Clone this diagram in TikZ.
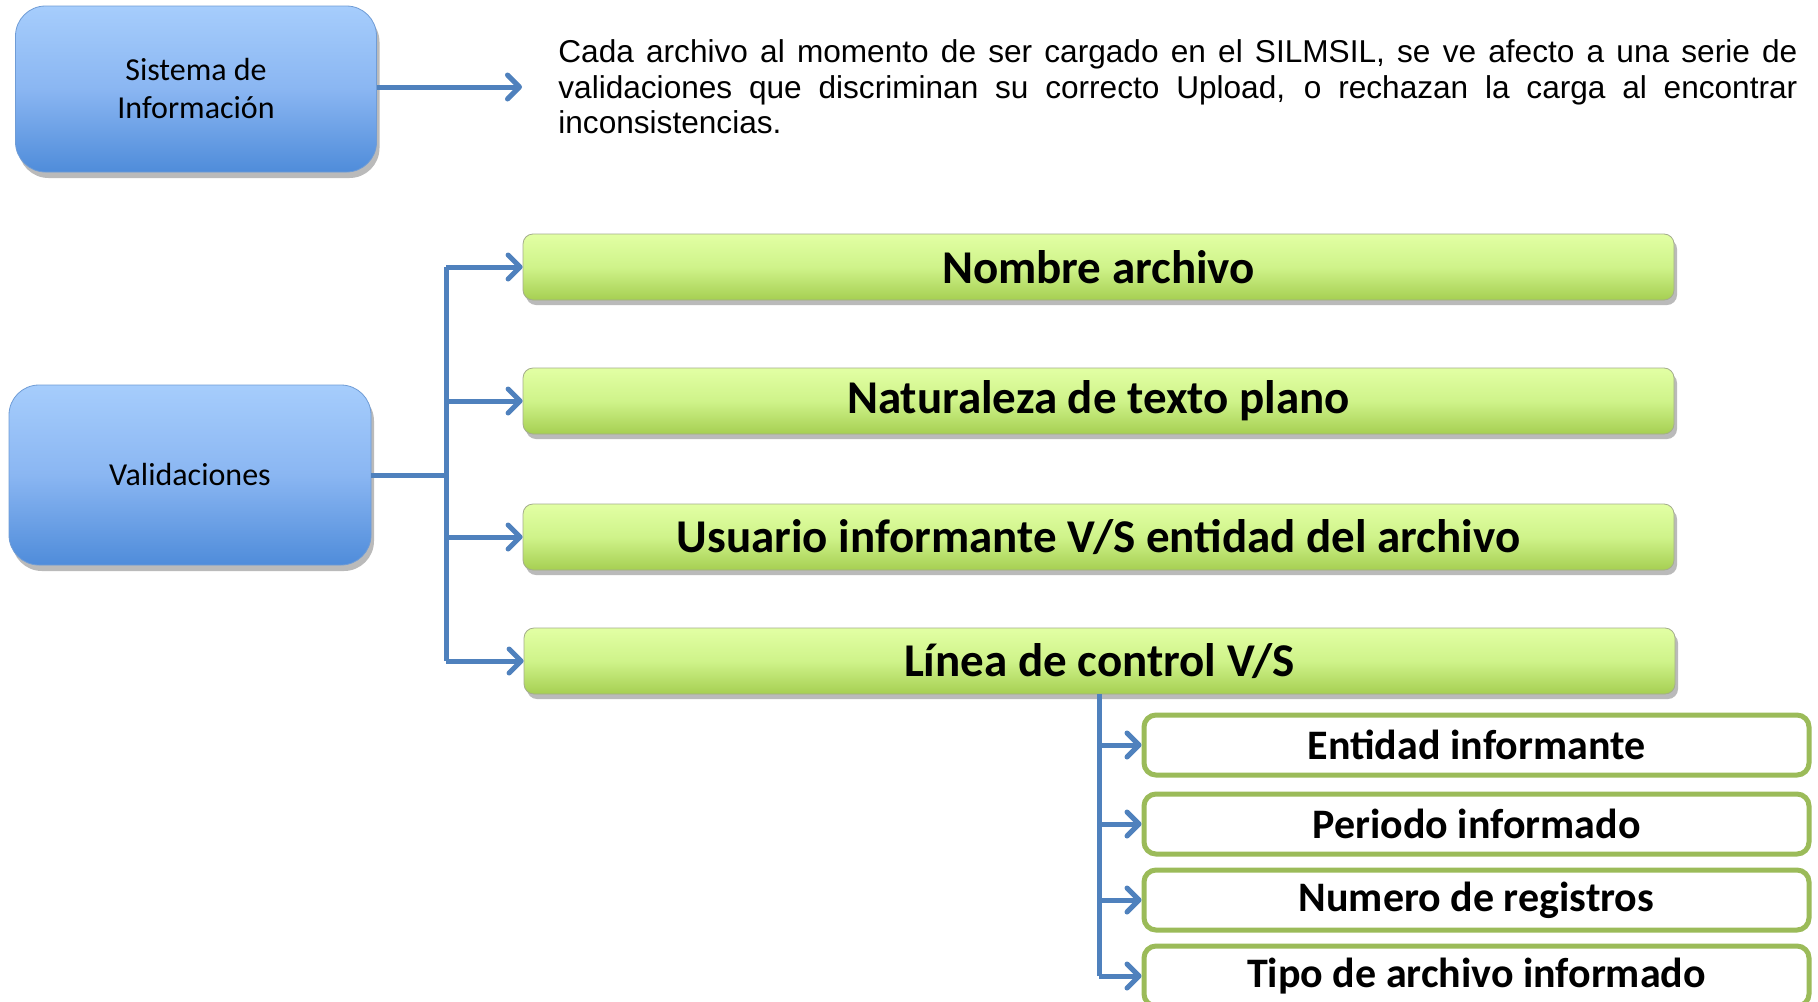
\documentclass[tikz,border=0pt]{standalone}
\usepackage{fontspec}
\setmainfont{Carlito}
\newfontfamily\arialfont{Liberation Sans}
\usetikzlibrary{arrows.meta,shadows}
\definecolor{arrowblue}{HTML}{4F81BD}
\definecolor{bluetop}{HTML}{A6CDFC}
\definecolor{bluemid}{HTML}{8AB6F2}
\definecolor{bluebot}{HTML}{4F8CDA}
\definecolor{bluedraw}{HTML}{6F9CD6}
\definecolor{greentop}{HTML}{E2FFA4}
\definecolor{greenmid}{HTML}{CFF38A}
\definecolor{greenbot}{HTML}{A6CF52}
\definecolor{greendraw}{HTML}{A4AD8C}
\definecolor{subgreen}{HTML}{9BBB59}
\tikzset{
  bluebox/.style={rounded corners=15pt, top color=bluetop, bottom color=bluebot, middle color=bluemid,
    draw=bluedraw, line width=0.4pt, align=center, text=black,
    drop shadow={shadow xshift=1.5pt, shadow yshift=-3pt, opacity=0.45, fill=black!60},
    font=\fontsize{16}{19}\selectfont},
  greenbox/.style={rounded corners=5pt, top color=greentop, bottom color=greenbot, middle color=greenmid,
    draw=greendraw, line width=0.4pt, minimum width=575.5pt, minimum height=33pt, inner sep=0pt,
    drop shadow={shadow xshift=1.5pt, shadow yshift=-2.5pt, opacity=0.45, fill=black!60},
    font=\fontsize{23.5}{28}\selectfont\bfseries},
  subbox/.style={rounded corners=6pt, fill=white, draw=subgreen, line width=2.5pt,
    minimum width=332.5pt, minimum height=30pt, inner sep=0pt,
    font=\fontsize{21}{25}\selectfont\bfseries},
  conn/.style={draw=arrowblue, line width=2.5pt},
  arr/.style={conn, -{Straight Barb[length=6pt,width=12pt,round]}},
  para/.style={text width=619.5pt, align=justify, inner sep=0pt,
    font=\arialfont\fontsize{15.8}{17.7}\selectfont, text=black}
}
\begin{document}
\begin{tikzpicture}[x=0.5pt,y=-0.5pt]
\clip (0,0) rectangle (1818,1001);
\fill[white] (0,0) rectangle (1818,1001);

\node[bluebox, minimum width=180.5pt, minimum height=83pt] (sis) at (196,89) {Sistema de\\Información};
\node[para, anchor=west] (txt) at (558,87) {Cada archivo al momento de ser cargado en el SILMSIL, se ve afecto a una serie de\linebreak validaciones que discriminan su correcto Upload, o rechazan la carga al encontrar\linebreak inconsistencias.};
\coordinate (txtin) at (522,87);
\draw[arr] (sis.east |- txtin) -- (txtin);

\node[bluebox, minimum width=181pt, minimum height=90pt] (val) at (190,475) {Validaciones};

\node[greenbox] (g1) at (1098.5,267) {Nombre archivo};
\node[greenbox] (g2) at (1098.5,401) {Naturaleza de texto plano};
\node[greenbox] (g3) at (1098.5,537) {Usuario informante V/S entidad del archivo};
\node[greenbox] (g4) at (1099.5,661) {Línea de control V/S};

\coordinate (t1) at (446,267);
\coordinate (t2) at (446,401);
\coordinate (t3) at (446,537);
\coordinate (t4) at (446,661);
\coordinate (tv) at (446,475);
\draw[conn] (t1) -- (t4);
\draw[conn] (val.east |- tv) -- (tv);
\draw[arr] (t1) -- (g1.west);
\draw[arr] (t2) -- (g2.west);
\draw[arr] (t3) -- (g3.west);
\draw[arr] (t4) -- (g4.west);

\node[subbox] (s1) at (1476.5,745) {Entidad informante};
\node[subbox] (s2) at (1476.5,824) {Periodo informado};
\node[subbox] (s3) at (1476.5,900) {Numero de registros};
\node[subbox] (s4) at (1476.5,976) {Tipo de archivo informado};

\coordinate (u1) at (1099,745);
\coordinate (u2) at (1099,824);
\coordinate (u3) at (1099,900);
\coordinate (u4) at (1099,976);
\draw[conn] (g4.south -| u1) -- (u4);
\draw[arr] (u1) -- (s1.west);
\draw[arr] (u2) -- (s2.west);
\draw[arr] (u3) -- (s3.west);
\draw[arr] (u4) -- (s4.west);
\end{tikzpicture}
\end{document}
